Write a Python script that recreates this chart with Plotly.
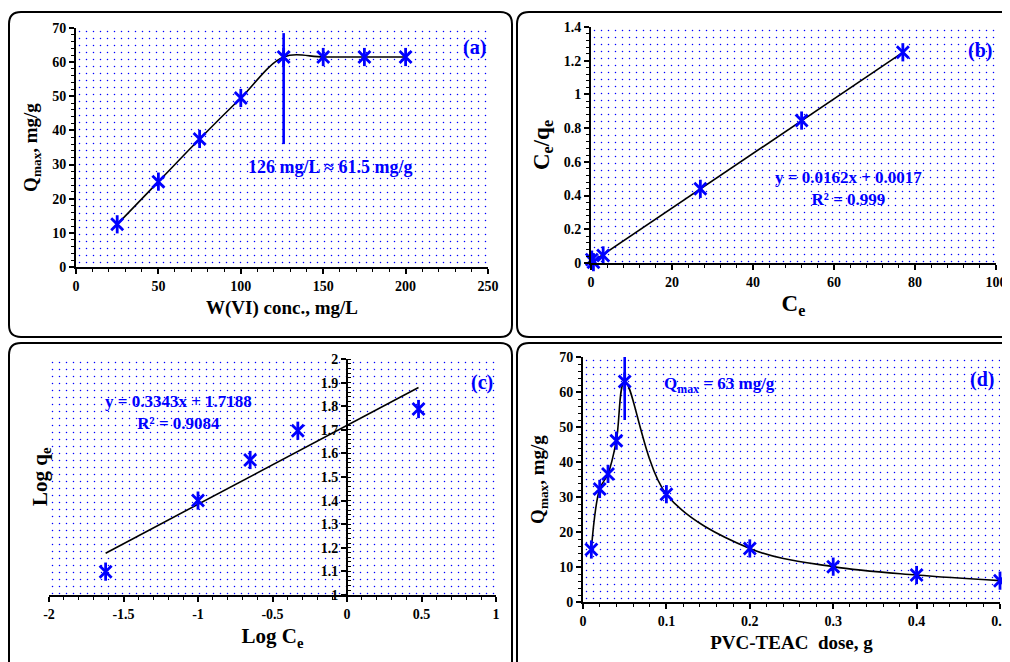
import plotly.graph_objects as go

W, H = 1010, 662
OFF = 8  # page body margin: figure is drawn 8px right/down of the window corner
BLUE = "#0000ff"
FONT = "Liberation Serif"

# ---------------- data ----------------
# (a) effect of W(VI) concentration
a_conc = [25, 50, 75, 100, 126, 150, 175, 200]
a_qmax = [12.5, 25, 37.5, 49.5, 61.5, 61.5, 61.5, 61.5]
a_vline_x = [126, 126]
a_vline_y = [36, 68.5]

# (b) Langmuir
b_ce = [0.2, 0.6, 3.0, 27, 52, 77]
b_ce_qe = [0.02, 0.005, 0.045, 0.44, 0.845, 1.25]
b_slope, b_intercept = 0.0162, 0.0017

# (c) Freundlich
c_log_ce = [-1.62, -1.0, -0.65, -0.33, 0.48]
c_log_qe = [1.099, 1.40, 1.572, 1.696, 1.788]
c_slope, c_intercept = 0.3343, 1.7188
c_xticks = [-2, -1.5, -1, -0.5, 0, 0.5, 1]
c_xticktext = ["-2", "-1.5", "-1", "-0.5", "0", "0.5", "1"]

# (d) effect of PVC-TEAC dose
d_dose = [0.01, 0.02, 0.03, 0.04, 0.05, 0.1, 0.2, 0.3, 0.4, 0.5]
d_qmax = [15.0, 32.3, 36.6, 46.1, 63.0, 30.8, 15.3, 10.1, 7.7, 6.1]
d_vline_x = [0.05, 0.05]
d_vline_y = [52, 70]

# ---------------- helpers ----------------
def px(x):
    return (x - OFF) / W

def py(y):
    return 1 - (y - OFF) / H

fig = go.Figure()


def pattern_bg(xa, ya, xr, yr):
    fig.add_trace(go.Bar(
        x=[(xr[0] + xr[1]) / 2], y=[yr[1] - yr[0]], base=[yr[0]],
        width=[xr[1] - xr[0]], xaxis=xa, yaxis=ya,
        marker=dict(color="white", line=dict(width=0),
                    pattern=dict(shape=".", fgcolor=BLUE, bgcolor="white",
                                 size=7, solidity=0.035, fillmode="replace")),
        hoverinfo="skip", showlegend=False))


def stars(x, y, xa, ya):
    for sym, sz in (("x-thin-open", 12), ("line-ns-open", 13)):
        fig.add_trace(go.Scatter(
            x=x, y=y, mode="markers", xaxis=xa, yaxis=ya, cliponaxis=False,
            marker=dict(symbol=sym, size=sz, color=BLUE,
                        line=dict(color=BLUE, width=2.8)),
            showlegend=False, hoverinfo="x+y"))


def axis(dom, rng, dtick, mdtick, tsize=19, mticks="outside", **kw):
    d = dict(domain=dom, range=rng, dtick=dtick, showline=True, automargin=False,
             linecolor="black", linewidth=2, ticks="outside", ticklen=5,
             tickwidth=1.6, tickcolor="black", showgrid=False, zeroline=False,
             tickfont=dict(family=FONT, size=14, color="black", weight="bold"),
             minor=dict(dtick=mdtick, ticks=mticks, ticklen=3,
                        tickwidth=1.2, tickcolor="black", showgrid=False),
             title_font=dict(family=FONT, size=tsize, color="black", weight="bold"))
    d.update(kw)
    return d


# plot areas in window pixels
dom_a = ([76, 488], [28, 267])
dom_b = ([591, 996], [27, 263])
dom_c = ([49, 496], [359, 595])
dom_d = ([583, 1000], [357, 602])


def xd(d):
    return [px(d[0][0]), px(d[0][1])]


def yd(d):
    return [py(d[1][1]), py(d[1][0])]


# ---------- (a) ----------
pattern_bg("x", "y", [0, 250], [0, 70])
fig.add_trace(go.Scatter(x=a_conc, y=a_qmax, mode="lines", line_shape="spline",
                         line=dict(color="black", width=1.6), xaxis="x", yaxis="y",
                         showlegend=False, hoverinfo="skip"))
fig.add_trace(go.Scatter(x=a_vline_x, y=a_vline_y, mode="lines",
                         line=dict(color=BLUE, width=2.6), xaxis="x", yaxis="y",
                         showlegend=False, hoverinfo="skip"))
stars(a_conc, a_qmax, "x", "y")

# ---------- (b) ----------
pattern_bg("x2", "y2", [0, 100], [0, 1.4])
b_fit_x = [0, max(b_ce)]
b_fit_y = [b_slope * v + b_intercept for v in b_fit_x]
fig.add_trace(go.Scatter(x=b_fit_x, y=b_fit_y, mode="lines",
                         line=dict(color="black", width=1.6), xaxis="x2", yaxis="y2",
                         showlegend=False, hoverinfo="skip"))
stars(b_ce, b_ce_qe, "x2", "y2")

# ---------- (c) ----------
pattern_bg("x3", "y3", [-2, 1], [1, 2])
c_fit_x = [min(c_log_ce), max(c_log_ce)]
c_fit_y = [c_slope * v + c_intercept for v in c_fit_x]
fig.add_trace(go.Scatter(x=c_fit_x, y=c_fit_y, mode="lines",
                         line=dict(color="black", width=1.6), xaxis="x3", yaxis="y3",
                         showlegend=False, hoverinfo="skip"))
stars(c_log_ce, c_log_qe, "x3", "y3")

# ---------- (d) ----------
pattern_bg("x4", "y4", [0, 0.5], [0, 70])
fig.add_trace(go.Scatter(x=d_dose, y=d_qmax, mode="lines", line_shape="spline",
                         line=dict(color="black", width=1.6), xaxis="x4", yaxis="y4",
                         showlegend=False, hoverinfo="skip"))
fig.add_trace(go.Scatter(x=d_vline_x, y=d_vline_y, mode="lines",
                         line=dict(color=BLUE, width=2.6), xaxis="x4", yaxis="y4",
                         showlegend=False, hoverinfo="skip"))
stars(d_dose, d_qmax, "x4", "y4")

# y-axis of (c) crosses at x = 0
c_y_pos = px(dom_c[0][0] + (0 - (-2)) / 3 * (dom_c[0][1] - dom_c[0][0]))

fig.update_layout(
    width=W, height=H, margin=dict(l=0, r=0, t=0, b=0, autoexpand=False),
    paper_bgcolor="white", plot_bgcolor="rgba(0,0,0,0)",
    showlegend=False, barmode="overlay",
    xaxis=axis(xd(dom_a), [0, 250], 50, 10, 19, anchor="y",
               title=dict(text="W(VI) conc., mg/L", standoff=8)),
    yaxis=axis(yd(dom_a), [0, 70], 10, 2, 19, anchor="x",
               title=dict(text="Q<sub>max</sub>, mg/g", standoff=10)),
    xaxis2=axis(xd(dom_b), [0, 100], 20, 4, 23, anchor="y2",
                title=dict(text="C<sub>e</sub>", standoff=6)),
    yaxis2=axis(yd(dom_b), [0, 1.4], 0.2, 0.04, 23, anchor="x2",
                title=dict(text="C<sub>e</sub>/q<sub>e</sub>", standoff=8)),
    xaxis3=axis(xd(dom_c), [-2, 1], 0.5, 0.1, 21, anchor="y3",
                tickvals=c_xticks, ticktext=c_xticktext,
                title=dict(text="Log C<sub>e</sub>", standoff=8)),
    yaxis3=axis(yd(dom_c), [1, 2], 0.1, 0.02, mticks="inside",
                anchor="free", position=c_y_pos),
    xaxis4=axis(xd(dom_d), [0, 0.5], 0.1, 0.02, 19, anchor="y4",
                title=dict(text="PVC-TEAC  dose, g", standoff=8)),
    yaxis4=axis(yd(dom_d), [0, 70], 10, 2, 19, anchor="x4",
                title=dict(text="Q<sub>max</sub>, mg/g", standoff=10)),
)

ann_font = dict(family=FONT, size=17, color=BLUE, weight="bold")
lab_font = dict(family=FONT, size=20, color=BLUE, weight="bold")
anns = [
    dict(x=154, y=29.3, xref="x", yref="y", text="126 mg/L ≈ 61.5 mg/g",
         font=dict(family=FONT, size=18, color=BLUE, weight="bold")),
    dict(x=242, y=64.4, xref="x", yref="y", text="(a)", font=lab_font),
    dict(x=63.5, y=0.44, xref="x2", yref="y2",
         text="y = 0.0162x + 0.0017<br>R² = 0.999", font=ann_font, align="center"),
    dict(x=96, y=1.263, xref="x2", yref="y2", text="(b)", font=lab_font),
    dict(x=-1.128, y=1.775, xref="x3", yref="y3",
         text="y = 0.3343x + 1.7188<br>R² = 0.9084", font=ann_font, align="center"),
    dict(x=0.906, y=1.90, xref="x3", yref="y3", text="(c)", font=lab_font),
    dict(x=0.0947, y=62, xref="x4", yref="y4", xanchor="left",
         text="Q<sub>max</sub> = 63 mg/g", font=ann_font),
    dict(x=0.478, y=63.7, xref="x4", yref="y4", text="(d)", font=lab_font),
    dict(x=px(41), y=py(477), xref="paper", yref="paper", textangle=-90,
         xanchor="center", yanchor="middle", text="Log q<sub>e</sub>",
         font=dict(family=FONT, size=21, color="black", weight="bold")),
]
for a in anns:
    a.setdefault("showarrow", False)
    fig.add_annotation(**a)


def rrect(x0, y0, x1, y1, r):
    pts = [
        ("M", [(x0 + r, y0)]), ("L", [(x1 - r, y0)]), ("Q", [(x1, y0), (x1, y0 + r)]),
        ("L", [(x1, y1 - r)]), ("Q", [(x1, y1), (x1 - r, y1)]),
        ("L", [(x0 + r, y1)]), ("Q", [(x0, y1), (x0, y1 - r)]),
        ("L", [(x0, y0 + r)]), ("Q", [(x0, y0), (x0 + r, y0)]),
    ]
    s = ""
    for cmd, pp in pts:
        s += cmd + " " + " ".join(f"{px(a):.5f},{py(b):.5f}" for a, b in pp) + " "
    return s + "Z"


for box in [(9, 12, 512, 337), (517, 12, 1030, 337), (9, 343, 512, 690), (517, 343, 1030, 690)]:
    fig.add_shape(type="path", path=rrect(*box, 12), xref="paper", yref="paper",
                  line=dict(color="black", width=2), layer="below")

fig.write_html("out.html")
